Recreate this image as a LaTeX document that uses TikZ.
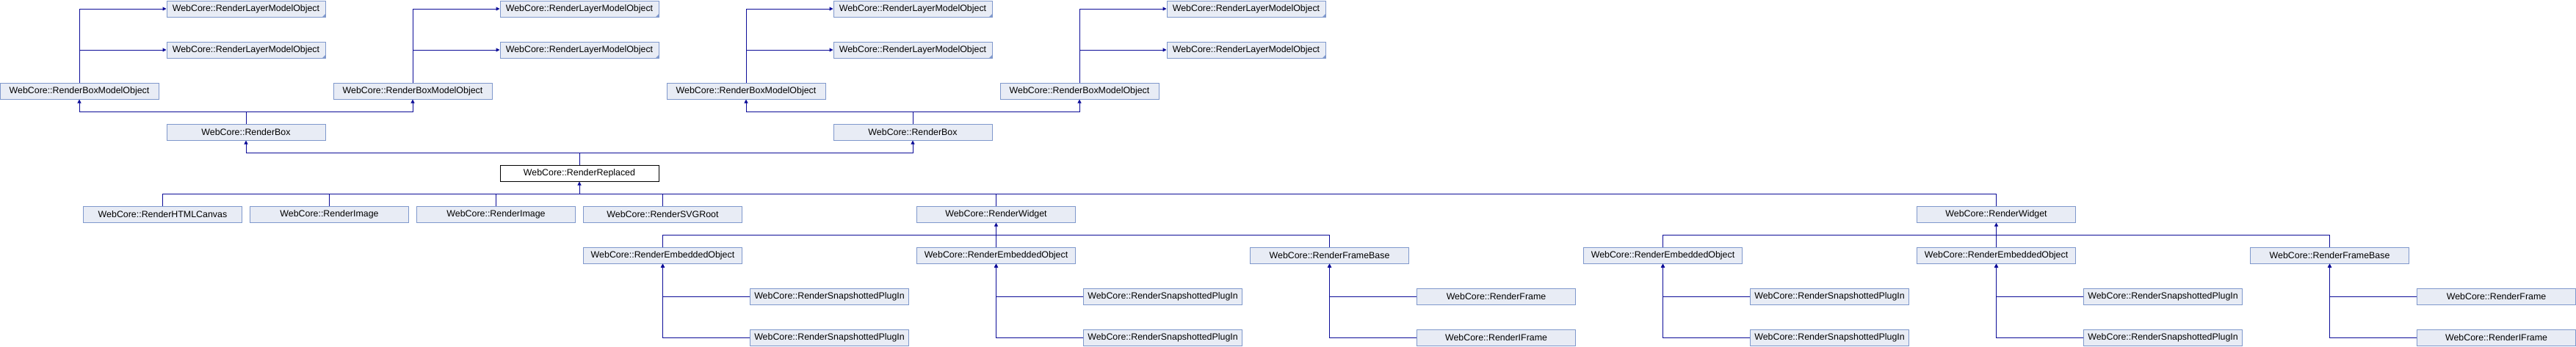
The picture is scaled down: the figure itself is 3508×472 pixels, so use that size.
\documentclass[tikz,border=0pt]{standalone}
\usepackage{fontspec}
\setmainfont{Liberation Sans}
\usetikzlibrary{arrows.meta}
\definecolor{boxfill}{HTML}{E8ECF5}
\definecolor{boxline}{HTML}{7F98CC}
\definecolor{conncol}{HTML}{0C0C98}
\begin{document}
\begin{tikzpicture}[x=1pt,y=-1pt,
  cls/.style={draw=boxline,fill=boxfill,line width=1pt,minimum width=216pt,minimum height=22pt,inner sep=0pt,font=\fontsize{12.4}{14}\selectfont},
  cur/.style={cls,draw=black,fill=white},
  conn/.style={draw=conncol,line width=1pt},
  tip/.style={conn,-{Triangle[width=5pt,length=5pt]}}]
\useasboundingbox (0,0) rectangle (3508,472);
\fill[white] (0,0) rectangle (3508,472);
% row 0 and 1
\node[cls] (rlmo1a) at (335,12) {WebCore::RenderLayerModelObject};
\node[cls] (rlmo2a) at (789,12) {WebCore::RenderLayerModelObject};
\node[cls] (rlmo3a) at (1243,12) {WebCore::RenderLayerModelObject};
\node[cls] (rlmo4a) at (1697,12) {WebCore::RenderLayerModelObject};
\node[cls] (rlmo1b) at (335,68) {WebCore::RenderLayerModelObject};
\node[cls] (rlmo2b) at (789,68) {WebCore::RenderLayerModelObject};
\node[cls] (rlmo3b) at (1243,68) {WebCore::RenderLayerModelObject};
\node[cls] (rlmo4b) at (1697,68) {WebCore::RenderLayerModelObject};
\foreach \n in {rlmo1a,rlmo2a,rlmo3a,rlmo4a,rlmo1b,rlmo2b,rlmo3b,rlmo4b}
  \fill[boxline] (\n.south east) -- ++(-5,0) -- ++(5,-5) -- cycle;
% row 2
\node[cls] (rbmo1) at (108,124) {WebCore::RenderBoxModelObject};
\node[cls] (rbmo2) at (562,124) {WebCore::RenderBoxModelObject};
\node[cls] (rbmo3) at (1016,124) {WebCore::RenderBoxModelObject};
\node[cls] (rbmo4) at (1470,124) {WebCore::RenderBoxModelObject};
% row 3
\node[cls] (rbox1) at (335,180) {WebCore::RenderBox};
\node[cls] (rbox2) at (1243,180) {WebCore::RenderBox};
% row 4
\node[cur] (rrep) at (789,236) {WebCore::RenderReplaced};
% row 5
\node[cls] (canvas) at (221.5,292) {WebCore::RenderHTMLCanvas};
\node[cls] (img1) at (448.5,292) {WebCore::RenderImage};
\node[cls] (img2) at (675.5,292) {WebCore::RenderImage};
\node[cls] (svg) at (902.5,292) {WebCore::RenderSVGRoot};
\node[cls] (widget1) at (1356.5,292) {WebCore::RenderWidget};
\node[cls] (widget2) at (2718.5,292) {WebCore::RenderWidget};
% row 6
\node[cls] (emb1) at (902.5,348) {WebCore::RenderEmbeddedObject};
\node[cls] (emb2) at (1356.5,348) {WebCore::RenderEmbeddedObject};
\node[cls] (fb1) at (1810.5,348) {WebCore::RenderFrameBase};
\node[cls] (emb3) at (2264.5,348) {WebCore::RenderEmbeddedObject};
\node[cls] (emb4) at (2718.5,348) {WebCore::RenderEmbeddedObject};
\node[cls] (fb2) at (3172.5,348) {WebCore::RenderFrameBase};
% row 7
\node[cls] (sp1a) at (1129.5,404) {WebCore::RenderSnapshottedPlugIn};
\node[cls] (sp2a) at (1583.5,404) {WebCore::RenderSnapshottedPlugIn};
\node[cls] (frame1) at (2037.5,404) {WebCore::RenderFrame};
\node[cls] (sp3a) at (2491.5,404) {WebCore::RenderSnapshottedPlugIn};
\node[cls] (sp4a) at (2945.5,404) {WebCore::RenderSnapshottedPlugIn};
\node[cls] (frame2) at (3399.5,404) {WebCore::RenderFrame};
% row 8
\node[cls] (sp1b) at (1129.5,460) {WebCore::RenderSnapshottedPlugIn};
\node[cls] (sp2b) at (1583.5,460) {WebCore::RenderSnapshottedPlugIn};
\node[cls] (iframe1) at (2037.5,460) {WebCore::RenderIFrame};
\node[cls] (sp3b) at (2491.5,460) {WebCore::RenderSnapshottedPlugIn};
\node[cls] (sp4b) at (2945.5,460) {WebCore::RenderSnapshottedPlugIn};
\node[cls] (iframe2) at (3399.5,460) {WebCore::RenderIFrame};
% bus coordinates
\coordinate (busA) at (0,152);
\coordinate (busB) at (0,208);
\coordinate (busC) at (0,264);
\coordinate (busD) at (0,320);
% RBMO -> RLMO
\foreach \d/\b in {rbmo1/rlmo1,rbmo2/rlmo2,rbmo3/rlmo3,rbmo4/rlmo4}{
  \draw[tip] (\d.north) |- (\b a.west);
  \draw[tip] (\d.north) |- (\b b.west);
}
% RenderBox -> RBMO
\draw[tip] (rbox1.north) -- (rbox1.north |- busA) -| (rbmo1.south);
\draw[tip] (rbox1.north) -- (rbox1.north |- busA) -| (rbmo2.south);
\draw[tip] (rbox2.north) -- (rbox2.north |- busA) -| (rbmo3.south);
\draw[tip] (rbox2.north) -- (rbox2.north |- busA) -| (rbmo4.south);
% RenderReplaced -> RenderBox
\draw[tip] (rrep.north) -- (rrep.north |- busB) -| (rbox1.south);
\draw[tip] (rrep.north) -- (rrep.north |- busB) -| (rbox2.south);
% children of RenderReplaced
\foreach \c in {canvas,img1,img2,svg,widget1,widget2}
  \draw[conn] (\c.north) |- (rrep.south |- busC);
\draw[tip] (rrep.south |- busC) -- (rrep.south);
% children of RenderWidget
\foreach \c in {emb1,emb2,fb1}
  \draw[conn] (\c.north) |- (widget1.south |- busD);
\draw[tip] (widget1.south |- busD) -- (widget1.south);
\foreach \c in {emb3,emb4,fb2}
  \draw[conn] (\c.north) |- (widget2.south |- busD);
\draw[tip] (widget2.south |- busD) -- (widget2.south);
% rows 7/8 -> row 6
\foreach \p/\a/\b in {emb1/sp1a/sp1b,emb2/sp2a/sp2b,fb1/frame1/iframe1,emb3/sp3a/sp3b,emb4/sp4a/sp4b,fb2/frame2/iframe2}{
  \draw[tip] (\a.west) -| (\p.south);
  \draw[tip] (\b.west) -| (\p.south);
}
\end{tikzpicture}
\end{document}
